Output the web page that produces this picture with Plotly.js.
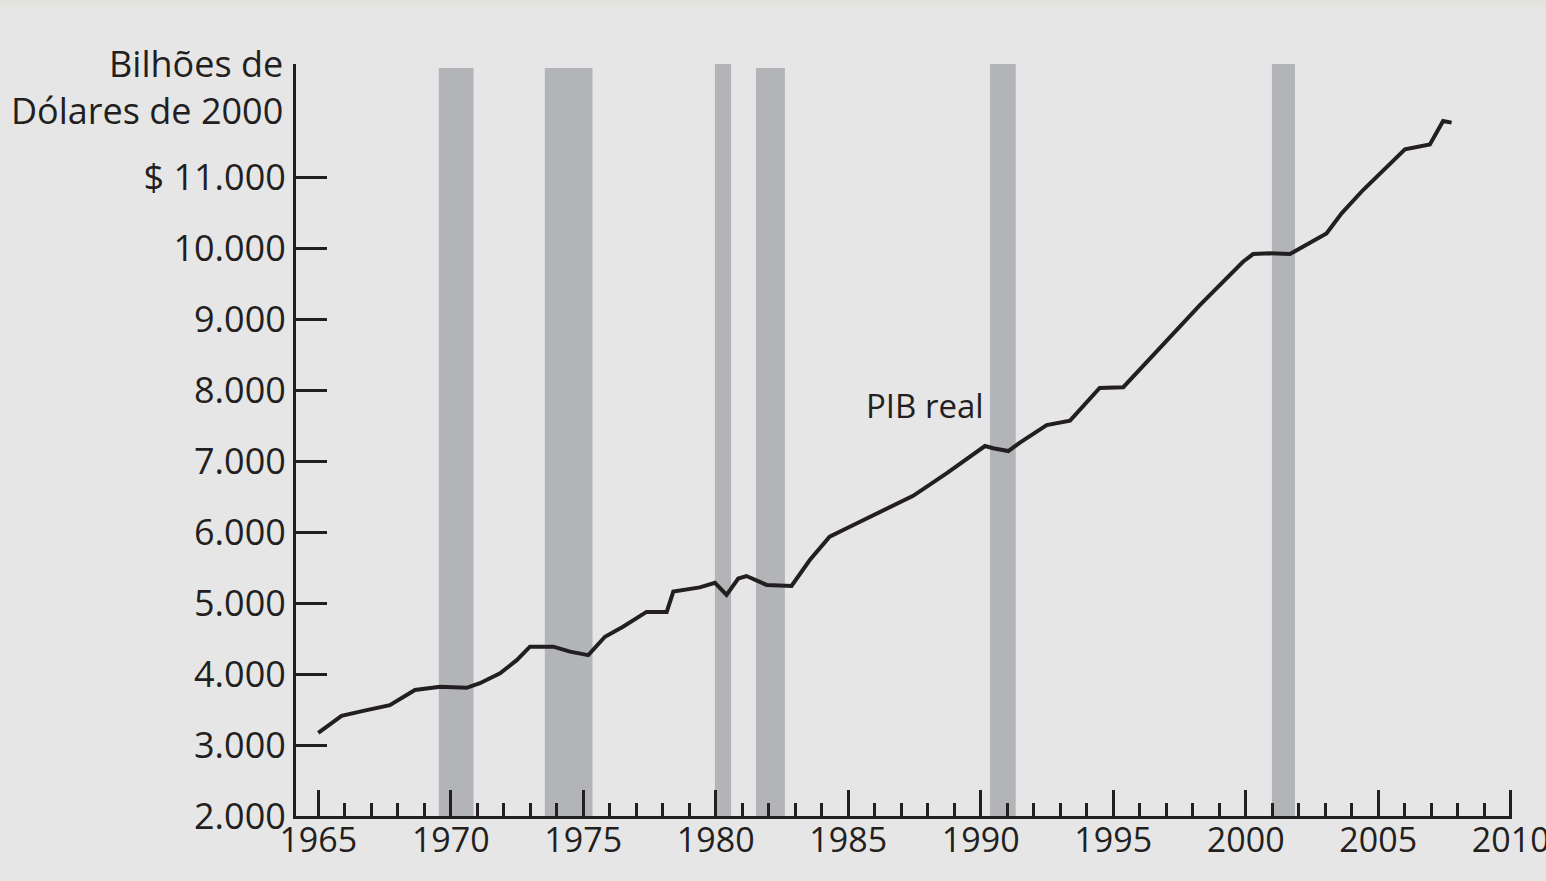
<!DOCTYPE html>
<html>
<head>
<meta charset="utf-8">
<script src="https://cdn.plot.ly/plotly-3.0.1.min.js"></script>
<style>
html,body{margin:0;padding:0;background:#e6e6e6;}
#chart{width:1546px;height:881px;}
</style>
</head>
<body>
<div id="chart"></div>
<script>
// Real GDP (billions of 2000 dollars)
const years = [1965.0, 1965.88, 1966.7, 1967.7, 1968.65, 1969.6, 1970.6, 1971.1, 1971.86, 1972.49,
  1972.99, 1973.87, 1974.5, 1975.19, 1975.82, 1976.5, 1977.39, 1978.15, 1978.4, 1979.4,
  1979.97, 1980.41, 1980.85, 1981.16, 1981.92, 1982.86, 1983.55, 1984.3, 1985.06, 1985.94,
  1987.45, 1988.71, 1990.16, 1990.47, 1991.04, 1991.48, 1992.49, 1993.37, 1993.74, 1994.49,
  1995.38, 1996.76, 1998.27, 1999.9, 2000.28, 2000.91, 2001.67, 2003.05, 2003.62, 2004.43,
  2005.19, 2006.01, 2006.95, 2007.45, 2007.77];
const gdp = [3170, 3410, 3480, 3560, 3775, 3820, 3805, 3870, 4010, 4195,
  4385, 4385, 4315, 4265, 4525, 4665, 4875, 4875, 5160, 5220,
  5285, 5115, 5345, 5380, 5255, 5240, 5605, 5935, 6075, 6240,
  6510, 6827, 7211, 7180, 7140, 7258, 7507, 7568, 7718, 8030,
  8040, 8587, 9197, 9807, 9915, 9925, 9915, 10206, 10488, 10817,
  11099, 11390, 11460, 11789, 11766];

// Recession periods (shaded bars)
const recStart = [1969.55, 1973.55, 1979.97, 1981.52, 1990.35, 2000.99];
const recEnd   = [1970.86, 1975.35, 1980.58, 1982.61, 1991.32, 2001.86];
const recTop   = [12535, 12535, 12592, 12535, 12592, 12592];

// Axis ticks
const yTickVals = [2000, 3000, 4000, 5000, 6000, 7000, 8000, 9000, 10000, 11000];
const yTickText = ['2.000', '3.000', '4.000', '5.000', '6.000', '7.000', '8.000', '9.000', '10.000', '$ 11.000'];
const xTickVals = [1965, 1970, 1975, 1980, 1985, 1990, 1995, 2000, 2005, 2010];
const xTickText = ['1965', '1970', '1975', '1980', '1985', '1990', '1995', '2000', '2005', '2010'];

const ink = '#231f20';
const fontFam = '"Open Sans", "Noto Sans", sans-serif';

const shapes = recStart.map((s, i) => ({
  type: 'rect', xref: 'x', yref: 'y', layer: 'below',
  x0: s, x1: recEnd[i], y0: 2000, y1: recTop[i],
  fillcolor: '#b3b4b8', line: {width: 0}
}));
shapes.push({
  type: 'rect', xref: 'paper', yref: 'paper', layer: 'below',
  x0: -0.3, x1: 1.1, y0: 1.0758, y1: 1.1,
  fillcolor: '#e2e3da', line: {width: 0}
});

const trace = {
  x: years, y: gdp, type: 'scatter', mode: 'lines',
  line: {color: ink, width: 4, shape: 'linear'},
  hoverinfo: 'x+y', showlegend: false
};

const layout = {
  width: 1546, height: 881,
  margin: {l: 296, r: 34, t: 64, b: 65},
  paper_bgcolor: '#e6e6e6', plot_bgcolor: '#e6e6e6',
  font: {family: fontFam, color: ink, size: 34},
  showlegend: false,
  xaxis: {
    range: [1964.16, 2010.05],
    tickmode: 'array', tickvals: xTickVals, ticktext: xTickText,
    ticks: 'inside', ticklen: 26, tickwidth: 3, tickcolor: ink,
    minor: {dtick: 1, tick0: 1965, ticks: 'inside', ticklen: 13, tickwidth: 3, tickcolor: ink, showgrid: false},
    showline: true, linecolor: ink, linewidth: 3,
    showgrid: false, zeroline: false,
    tickfont: {family: fontFam, size: 34, color: ink},
    ticklabeloverflow: 'allow', ticklabelstandoff: -8,
    automargin: false, fixedrange: true
  },
  yaxis: {
    range: [2000, 12592],
    tickmode: 'array', tickvals: yTickVals, ticktext: yTickText,
    ticks: 'inside', ticklen: 31, tickwidth: 3, tickcolor: ink,
    showline: true, linecolor: ink, linewidth: 3,
    showgrid: false, zeroline: false,
    tickfont: {family: fontFam, size: 36, color: ink},
    ticklabeloverflow: 'allow',
    automargin: false, fixedrange: true
  },
  shapes: shapes,
  annotations: [
    {
      text: 'Bilhões de<br>Dólares de 2000',
      xref: 'paper', yref: 'paper', x: -0.009, y: 0.97,
      xanchor: 'right', yanchor: 'middle', align: 'right', showarrow: false,
      font: {family: fontFam, size: 36, color: ink}
    },
    {
      text: 'PIB real',
      xref: 'x', yref: 'y', x: 1987.89, y: 7775,
      xanchor: 'center', yanchor: 'middle', showarrow: false,
      font: {family: fontFam, size: 33, color: ink}
    }
  ]
};

Plotly.newPlot('chart', [trace], layout, {displayModeBar: false, staticPlot: true});
</script>
</body>
</html>
